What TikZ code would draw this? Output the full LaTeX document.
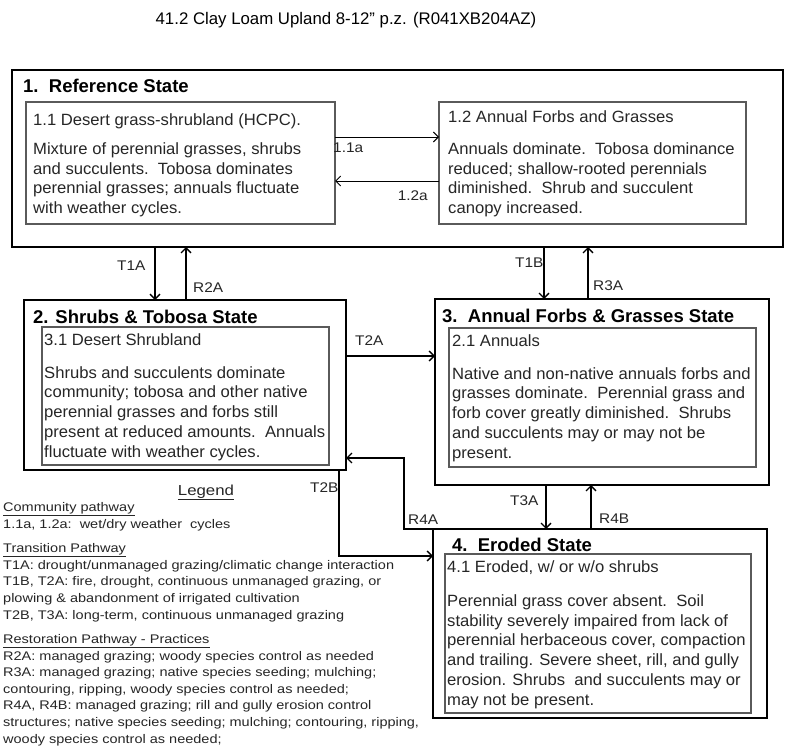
\documentclass[tikz,border=0pt]{standalone}
\usepackage{fontspec}
\setmainfont{Liberation Sans}
\newfontfamily\widefont{Liberation Sans}[FakeStretch=1.16]
\newfontfamily\lblfont{Liberation Sans}[FakeStretch=1.1]
\newfontfamily\bodyfont{Liberation Sans}[FakeStretch=1.02]
\usetikzlibrary{arrows.meta}
\definecolor{txt}{HTML}{262626}
\definecolor{innerc}{HTML}{5A5A5A}
\begin{document}
\begin{tikzpicture}[x=1pt,y=-1pt,
 statebox/.style={draw=black, line width=1.8pt, anchor=north west, inner sep=0pt, outer sep=0pt, rectangle},
 commbox/.style={draw=innerc, line width=1.1pt, anchor=north west, inner sep=0pt, outer sep=0pt, rectangle},
 arr/.style={line width=1.6pt, -{Straight Barb[length=5pt,width=10pt,line width=1.3pt]}},
 thinarr/.style={line width=0.9pt, -{Straight Barb[length=5pt,width=10pt]}},
 maintitle/.style={anchor=base, inner sep=0pt, font=\fontsize{16.8}{19}\selectfont, text=black},
 statetitle/.style={anchor=base west, inner sep=0pt, font=\fontsize{18.5}{20}\selectfont\bfseries},
 commhead/.style={anchor=base west, inner sep=0pt, font=\bodyfont\fontsize{16.3}{19.7}\selectfont, text=txt},
 commbody/.style={anchor=base west, inner sep=0pt, align=left, font=\bodyfont\fontsize{16.3}{19.7}\selectfont, text=txt},
 lbl/.style={anchor=base west, inner sep=0pt, font=\lblfont\fontsize{14}{15}\selectfont, text=txt},
 legtext/.style={anchor=base west, inner sep=0pt, align=left, font=\widefont\fontsize{12.5}{16.6}\selectfont, text=txt},
]
\useasboundingbox[fill=white] (0,0) rectangle (800,749);

% title
\node[maintitle] (title) at (346,25) {41.2 Clay Loam Upland 8-12\textquotedblright\ p.z. (R041XB204AZ)};

% state 1
\node[statebox, minimum width=771pt, minimum height=177pt] (s1) at (12,70) {};
\node[statetitle] (s1t) at (23,93) {1.\ \ Reference State};
\node[commbox, minimum width=309pt, minimum height=122pt] (c11) at (26,102) {};
\node[commhead] (c11h) at (33,125) {1.1 Desert grass-shrubland (HCPC).};
\node[commbody] (c11b) at (33,213.5) {Mixture of perennial grasses, shrubs\\and succulents.\ \ Tobosa dominates\\perennial grasses; annuals fluctuate\\with weather cycles.};
\node[commbox, minimum width=307pt, minimum height=122pt] (c12) at (439,102) {};
\node[commhead] (c12h) at (448,123) {1.2 Annual Forbs and Grasses};
\node[commbody] (c12b) at (448,213.5) {Annuals dominate.\ \ Tobosa dominance\\reduced; shallow-rooted perennials\\diminished.\ \ Shrub and succulent\\canopy increased.};

% state 2
\node[statebox, minimum width=322pt, minimum height=170pt] (s2) at (24,300) {};
\node[statetitle] (s2t) at (33,323) {2. Shrubs \& Tobosa State};
\node[commbox, minimum width=287pt, minimum height=138pt] (c2) at (42,327) {};
\node[commhead] (c2h) at (44,345) {3.1 Desert Shrubland};
\node[commbody] (c2b) at (44,457) {Shrubs and succulents dominate\\community; tobosa and other native\\perennial grasses and forbs still\\present at reduced amounts.\ \ Annuals\\fluctuate with weather cycles.};

% state 3
\node[statebox, minimum width=334pt, minimum height=186pt] (s3) at (435,299) {};
\node[statetitle] (s3t) at (442,322) {3.\ \ Annual Forbs \& Grasses State};
\node[commbox, minimum width=307pt, minimum height=139pt] (c3) at (449,328) {};
\node[commhead] (c3h) at (452,346) {2.1 Annuals};
\node[commbody] (c3b) at (452,458) {Native and non-native annuals forbs and\\grasses dominate.\ \ Perennial grass and\\forb cover greatly\ diminished.\ \ Shrubs\\and succulents may or may not be\\present.};

% state 4
\node[statebox, minimum width=334pt, minimum height=189pt] (s4) at (433,529) {};
\node[statetitle] (s4t) at (452,551) {4.\ \ Eroded State};
\node[commbox, minimum width=306pt, minimum height=159pt] (c4) at (445,554) {};
\node[commhead] (c4h) at (447,572) {4.1 Eroded, w/ or w/o shrubs};
\node[commbody] (c4b) at (447,705) {Perennial grass cover absent.\ \ Soil\\stability severely impaired from lack of\\perennial herbaceous cover, compaction\\and trailing. Severe sheet, rill, and gully\\erosion. Shrubs\ \ and succulents may or\\may not be present.};

% helper coordinates
\coordinate (yA) at (0,137);
\coordinate (yB) at (0,181);
\coordinate (xT1A) at (155,0);
\coordinate (xR2A) at (186,0);
\coordinate (xT1B) at (544,0);
\coordinate (xR3A) at (588,0);
\coordinate (yT2A) at (0,356);
\coordinate (xT3A) at (546,0);
\coordinate (xR4B) at (591,0);
\coordinate (k1) at (404,458);
\coordinate (k2) at (339,556);

% connectors
\draw[thinarr] (c11.east |- yA) -- (c12.west |- yA);
\draw[thinarr] (c12.west |- yB) -- (c11.east |- yB);
\draw[arr] (s1.south -| xT1A) -- (s2.north -| xT1A);
\draw[arr] (s2.north -| xR2A) -- (s1.south -| xR2A);
\draw[arr] (s1.south -| xT1B) -- (s3.north -| xT1B);
\draw[arr] (s3.north -| xR3A) -- (s1.south -| xR3A);
\draw[arr] (s2.east |- yT2A) -- (s3.west |- yT2A);
\draw[arr] (s3.south -| xT3A) -- (s4.north -| xT3A);
\draw[arr] (s4.north -| xR4B) -- (s3.south -| xR4B);
\draw[arr] (s2.south -| k2) |- (s4.west |- k2);
\draw[arr] (s4.north west) -| (k1) -- (s2.east |- k1);

% connector labels
\node[lbl] (l11a) at (333,153) {1.1a};
\node[lbl, anchor=base east] (l12a) at (428,200) {1.2a};
\node[lbl] (lT1A) at (117,270) {T1A};
\node[lbl] (lR2A) at (193,292) {R2A};
\node[lbl] (lT1B) at (515,267) {T1B};
\node[lbl] (lR3A) at (593,290) {R3A};
\node[lbl] (lT2A) at (355,345) {T2A};
\node[lbl] (lT2B) at (310,492) {T2B};
\node[lbl] (lR4A) at (408,524) {R4A};
\node[lbl] (lT3A) at (510,505) {T3A};
\node[lbl] (lR4B) at (599,523) {R4B};

% legend
\node[anchor=base, inner sep=0pt, font=\widefont\fontsize{14.5}{16}\selectfont, text=txt] (leg) at (206,495) {\underline{Legend}};
\node[legtext] (legc) at (3,528) {\underline{Community pathway}\\1.1a, 1.2a:\ \ wet/dry weather\ \ cycles};
\node[legtext] (legt) at (3,619) {\underline{Transition Pathway}\\T1A: drought/unmanaged grazing/climatic change interaction\\T1B, T2A: fire, drought, continuous unmanaged grazing, or\\plowing \& abandonment of irrigated cultivation\\T2B, T3A: long-term, continuous unmanaged grazing};
\node[legtext] (legr) at (3,743) {\underline{Restoration Pathway - Practices}\\R2A: managed grazing; woody species control as needed\\R3A: managed grazing; native species seeding; mulching;\\contouring, ripping, woody species control as needed;\\R4A, R4B: managed grazing; rill and gully erosion control\\structures; native species seeding; mulching; contouring, ripping,\\woody species control as needed;};
\end{tikzpicture}
\end{document}
